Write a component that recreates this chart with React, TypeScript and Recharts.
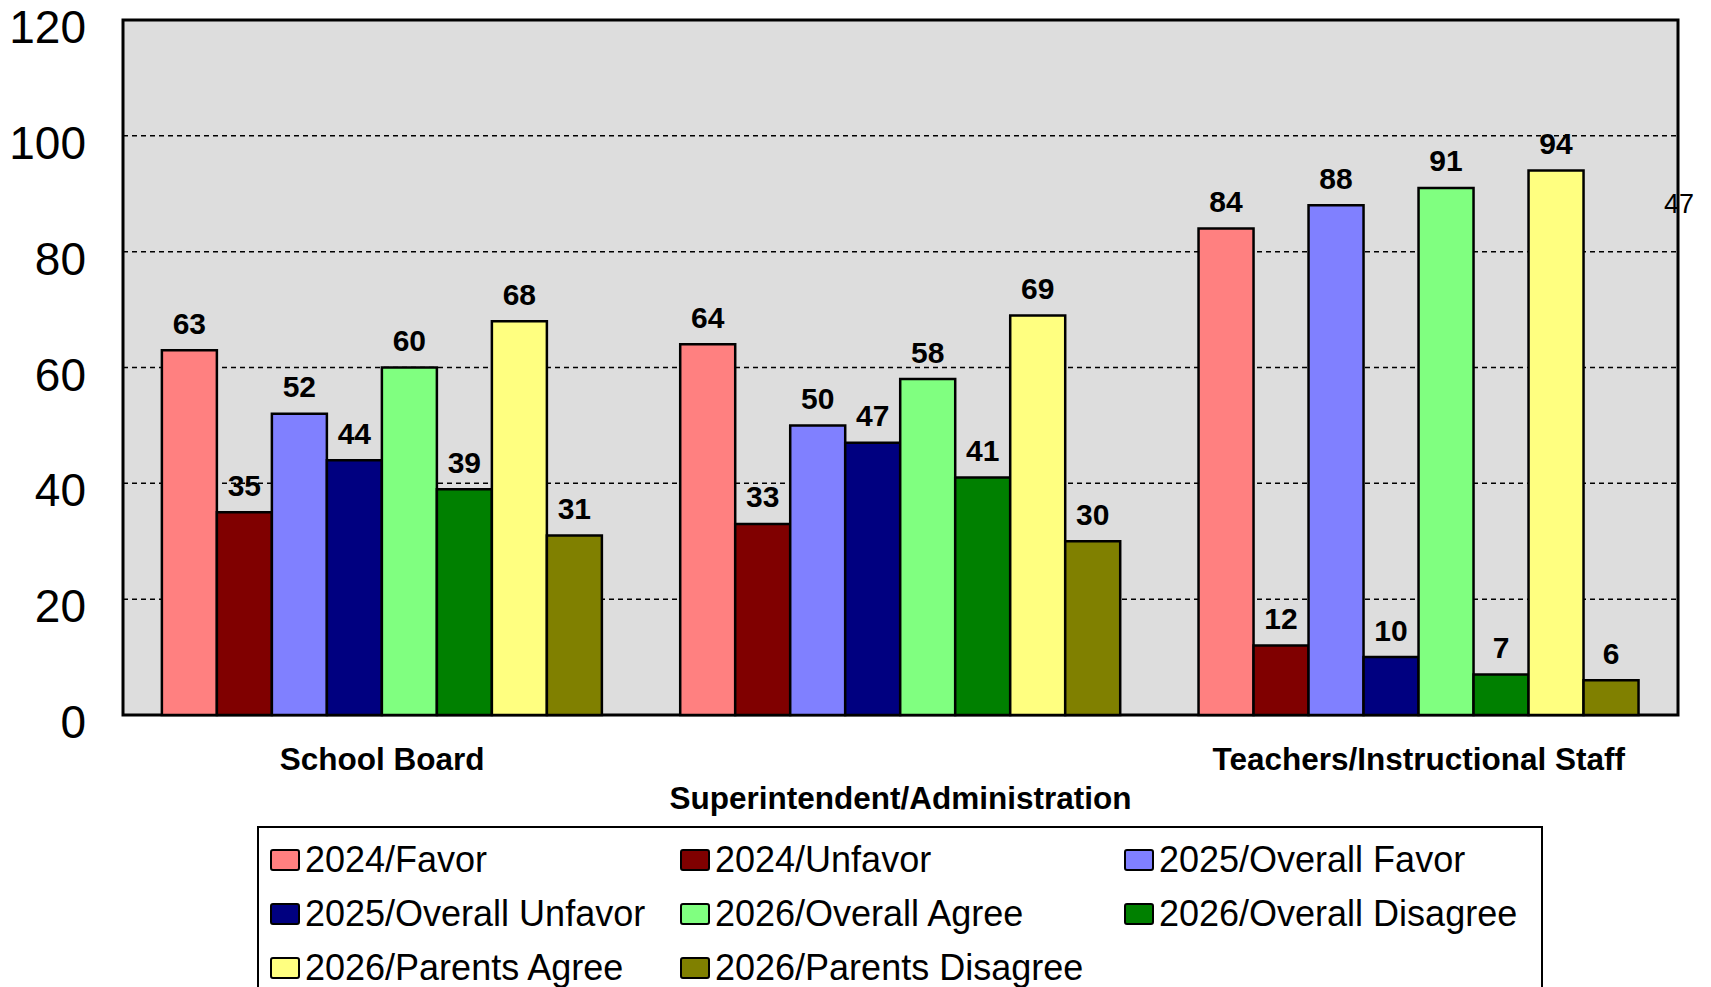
import { BarChart, Bar, XAxis, YAxis, CartesianGrid, ReferenceArea } from 'recharts'

const categories = ['School Board', 'Superintendent/Administration', 'Teachers/Instructional Staff']

const seriesNames = [
  '2024/Favor',
  '2024/Unfavor',
  '2025/Overall Favor',
  '2025/Overall Unfavor',
  '2026/Overall Agree',
  '2026/Overall Disagree',
  '2026/Parents Agree',
  '2026/Parents Disagree',
]

const seriesColors = ['#FF8080', '#800000', '#8080FF', '#000080', '#80FF80', '#008000', '#FFFF80', '#808000']

const favor2024 = [63, 64, 84]
const unfavor2024 = [35, 33, 12]
const overallFavor2025 = [52, 50, 88]
const overallUnfavor2025 = [44, 47, 10]
const overallAgree2026 = [60, 58, 91]
const overallDisagree2026 = [39, 41, 7]
const parentsAgree2026 = [68, 69, 94]
const parentsDisagree2026 = [31, 30, 6]

const yTicks = [0, 20, 40, 60, 80, 100, 120]
const strayLabel = '47'

const seriesValues = [
  favor2024,
  unfavor2024,
  overallFavor2025,
  overallUnfavor2025,
  overallAgree2026,
  overallDisagree2026,
  parentsAgree2026,
  parentsDisagree2026,
]

const data = categories.map((name, i) => {
  const row: Record<string, string | number> = { name }
  seriesValues.forEach((vals, s) => {
    row[`s${s}`] = vals[i]
  })
  return row
})

const FONT = '"Liberation Sans", Arial, sans-serif'

function YTick({ x, y, payload }: any) {
  return (
    <text x={x} y={y + 7} textAnchor="end" dominantBaseline="central" fontSize={46} fontFamily={FONT} fill="#000">
      {payload.value}
    </text>
  )
}

function XTick({ x, y, payload, index }: any) {
  const dy = index % 2 === 1 ? 83 : 44
  return (
    <text
      x={x}
      y={y + dy}
      textAnchor="middle"
      dominantBaseline="central"
      fontSize={31.5}
      fontWeight="bold"
      fontFamily={FONT}
      fill="#000"
    >
      {payload.value}
    </text>
  )
}

function ValueLabel({ x, y, width, value }: any) {
  return (
    <text
      x={x + width / 2}
      y={y - 27}
      textAnchor="middle"
      dominantBaseline="central"
      fontSize={30}
      fontWeight="bold"
      fontFamily={FONT}
      fill="#000"
    >
      {value}
    </text>
  )
}

const legendCols = [270, 680, 1124]
const legendRows = [860, 914, 968]

export default function App() {
  return (
    <div style={{ position: 'relative', width: 1711, height: 987, overflow: 'hidden', background: '#fff' }}>
      <style>{'body{margin:0}'}</style>
      <BarChart
        width={1711}
        height={987}
        data={data}
        margin={{ top: 20, right: 33, left: 13, bottom: 172 }}
        barCategoryGap="7.5%"
        barGap={0}
      >
        <CartesianGrid vertical={false} fill="#DDDDDD" fillOpacity={1} stroke="#000" strokeDasharray="5 4" strokeWidth={1.5} />
        <XAxis
          dataKey="name"
          height={100}
          interval={0}
          tickSize={0}
          tickMargin={0}
          axisLine={false}
          tickLine={false}
          tick={<XTick />}
        />
        <YAxis
          width={110}
          domain={[0, 120]}
          ticks={yTicks}
          tickSize={0}
          tickMargin={37}
          axisLine={false}
          tickLine={false}
          tick={<YTick />}
        />
        {seriesNames.map((n, s) => (
          <Bar
            key={n}
            dataKey={`s${s}`}
            name={n}
            fill={seriesColors[s]}
            stroke="#000"
            strokeWidth={2.5}
            isAnimationActive={false}
            label={<ValueLabel />}
          />
        ))}
        <ReferenceArea y1={0} y2={120} fill="none" stroke="#000" strokeWidth={3} ifOverflow="visible" />
      </BarChart>

      <div
        style={{
          position: 'absolute',
          left: 1664,
          top: 204,
          transform: 'translateY(-50%)',
          fontFamily: FONT,
          fontSize: 27,
          color: '#000',
          lineHeight: 1,
        }}
      >
        {strayLabel}
      </div>

      <div
        style={{
          position: 'absolute',
          left: 257,
          top: 826,
          width: 1286,
          height: 200,
          border: '2px solid #000',
          background: '#fff',
          boxSizing: 'border-box',
        }}
      />
      {seriesNames.map((n, s) => (
        <div
          key={n}
          style={{
            position: 'absolute',
            left: legendCols[s % 3],
            top: legendRows[Math.floor(s / 3)],
            transform: 'translateY(-50%)',
            display: 'flex',
            alignItems: 'center',
            fontFamily: FONT,
            fontSize: 36,
            color: '#000',
            whiteSpace: 'nowrap',
            lineHeight: 1,
          }}
        >
          <span
            style={{
              display: 'inline-block',
              width: 30,
              height: 22,
              background: seriesColors[s],
              border: '2px solid #000',
              borderRadius: 3,
              boxSizing: 'border-box',
              marginRight: 5,
            }}
          />
          {n}
        </div>
      ))}
    </div>
  )
}
